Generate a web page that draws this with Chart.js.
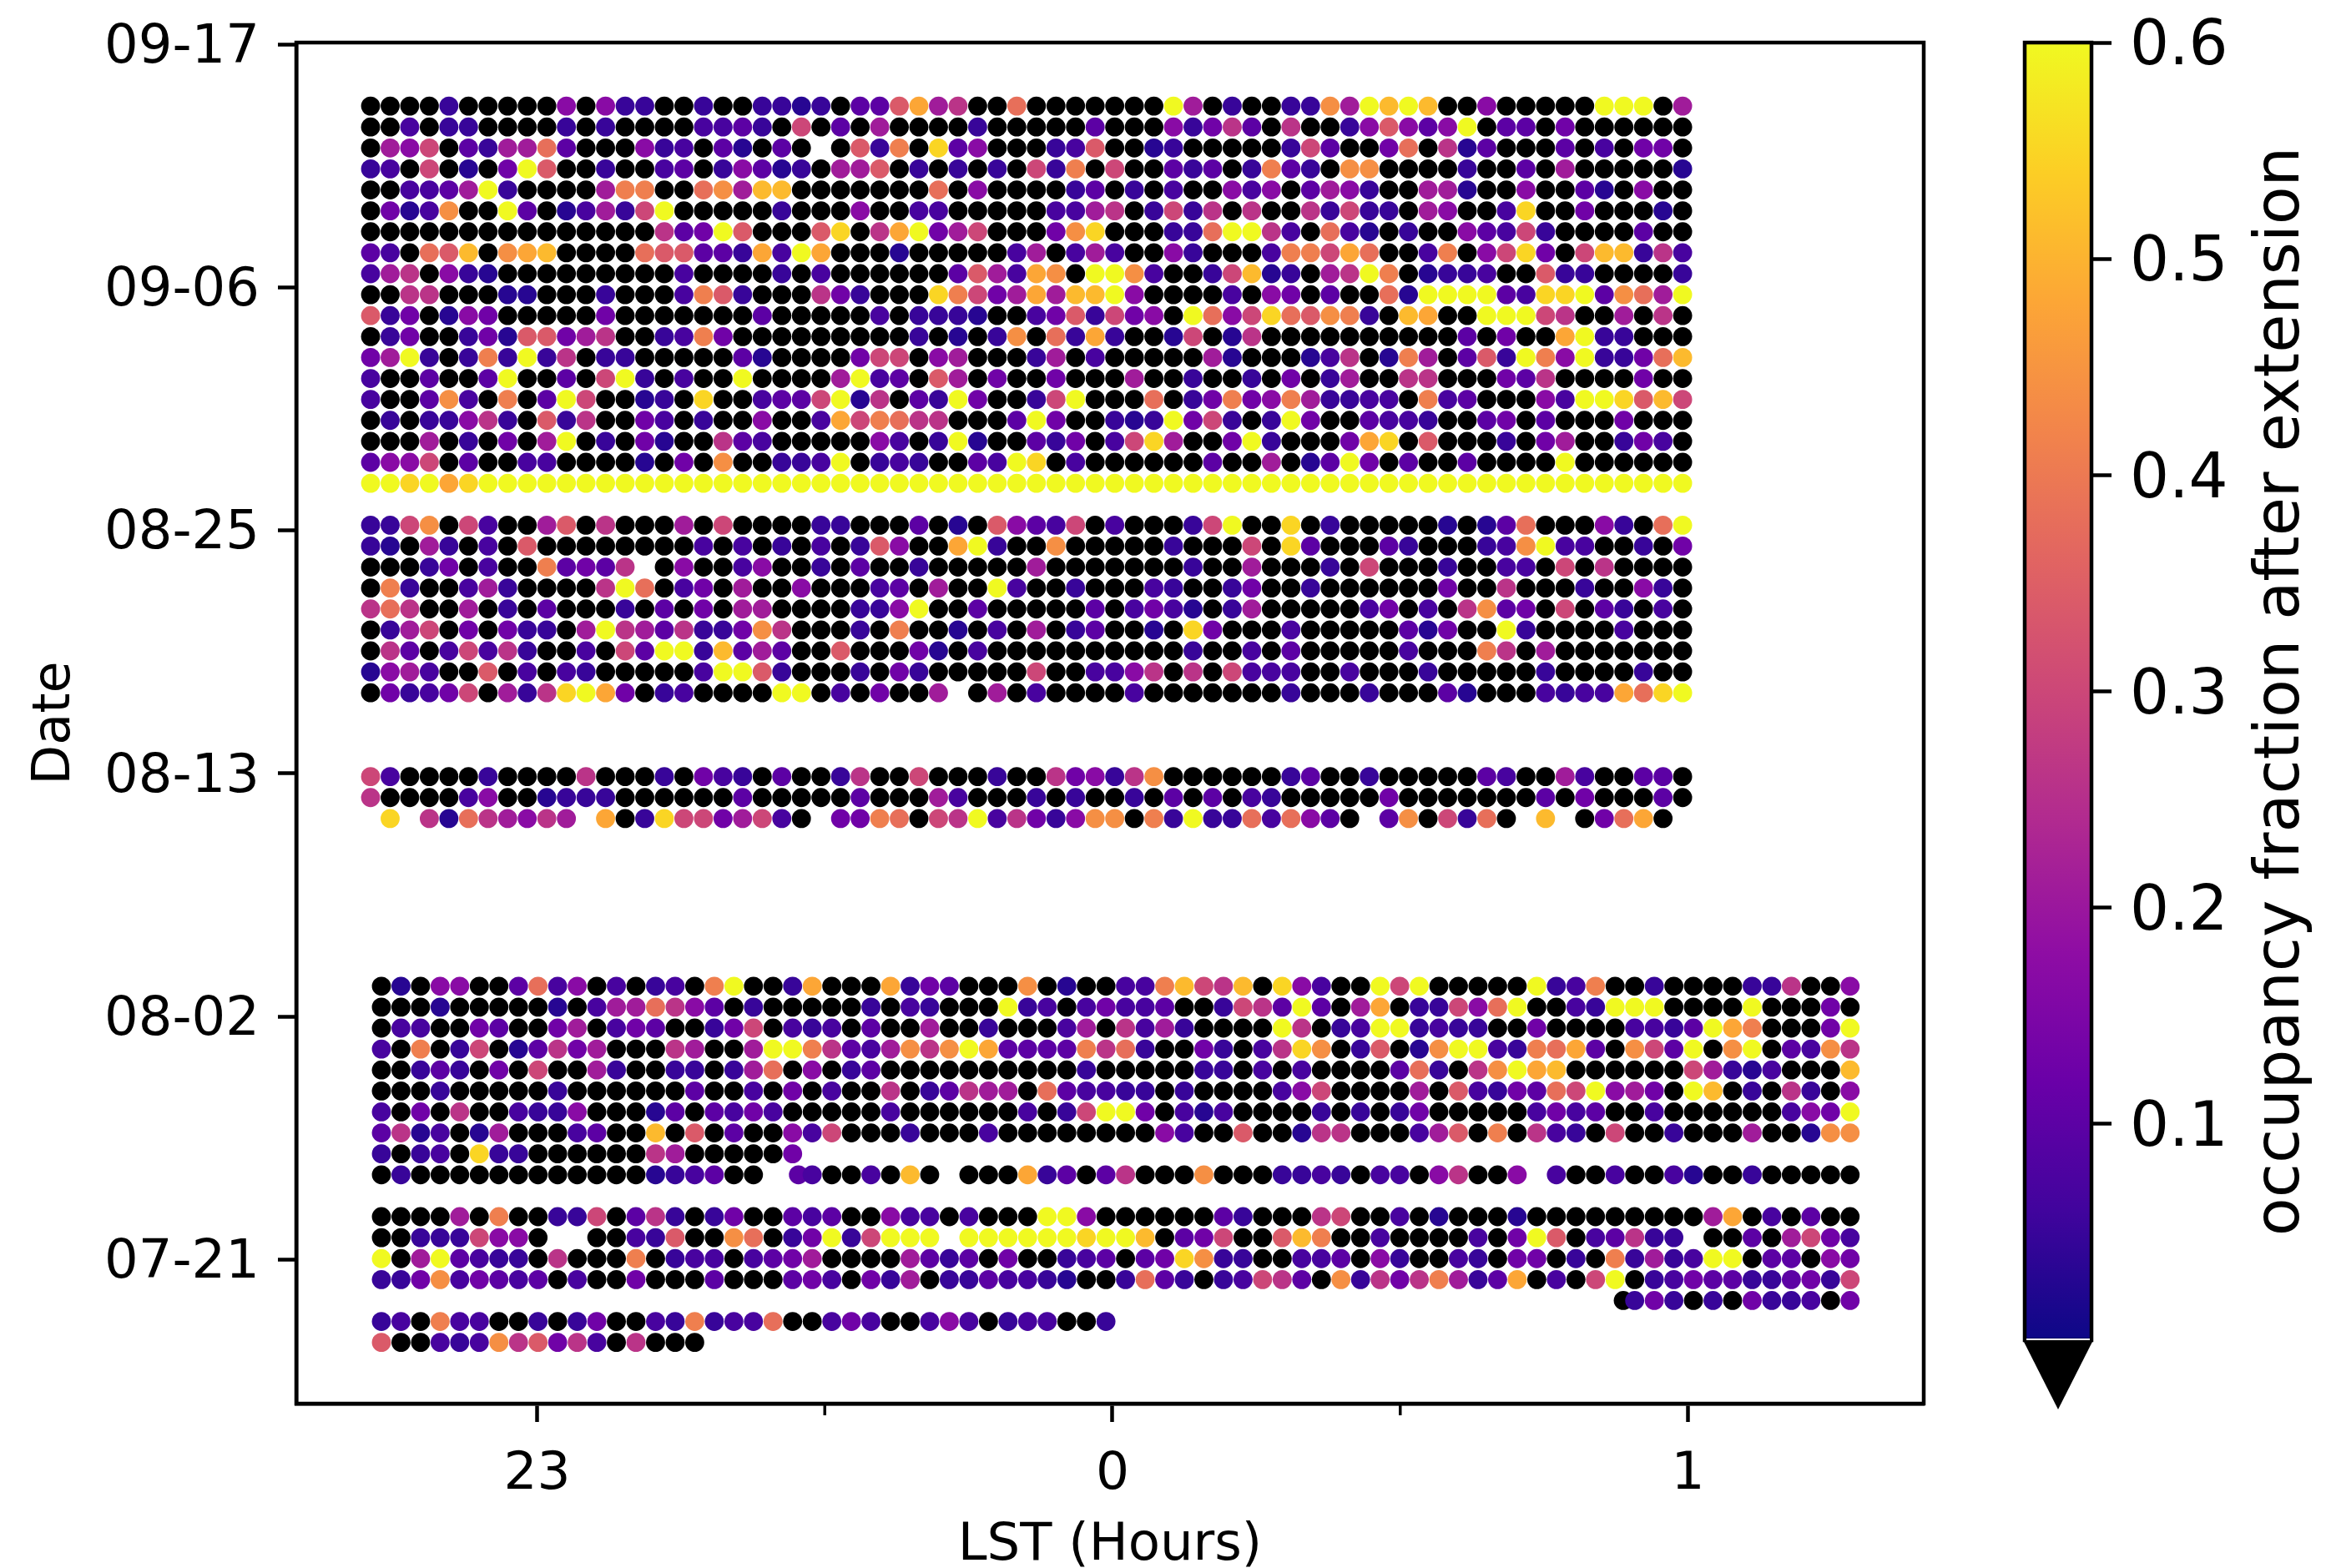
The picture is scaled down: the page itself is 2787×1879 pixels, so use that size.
<!DOCTYPE html>
<html>
<head>
<meta charset="utf-8">
<title>Occupancy fraction after extension</title>
<script src="https://cdn.jsdelivr.net/npm/chart.js@4/dist/chart.umd.js"></script>
<style>
  body { margin: 0; background: #fff; }
  canvas { position: absolute; top: 0; }
  #mainChart { left: 0; }
  #barChart { left: 2300px; }
</style>
</head>
<body>
<canvas id="mainChart" width="2787" height="1879"></canvas>
<canvas id="barChart" width="487" height="1879"></canvas>
<script>
// Axis ticks
const xTickValues = [-1, 0, 1];
const xTickLabels = ['23', '0', '1'];
const xMinorTicks = [-0.5, 0.5];
const yTickValues = [78.7, 67.1, 55.5, 43.9, 32.3, 20.7];
const yTickLabels = ['09-17', '09-06', '08-25', '08-13', '08-02', '07-21'];
const barTicks = [0.1, 0.2, 0.3, 0.4, 0.5, 0.6];

// Occupancy, one letter per pointing.
// 0 = below the colour range (black), . = no pointing
const occupancyLevels = {
  '0': 0, a: 0.03, b: 0.05, c: 0.07, d: 0.1, e: 0.13, f: 0.17, g: 0.21, h: 0.26,
  i: 0.3, j: 0.34, k: 0.38, l: 0.41, m: 0.44, n: 0.48, o: 0.51, p: 0.55, q: 0.6
};

const lstStep = 0.03403;

const topStart = -1.2893;
const topDates = ['09-14', '09-13', '09-12', '09-11', '09-10', '09-09', '09-08', '09-07', '09-06', '09-05',
  '09-04', '09-03', '09-02', '09-01', '08-31', '08-30', '08-29', '08-28', '08-27',
  '08-25', '08-24', '08-23', '08-22', '08-21', '08-20', '08-19', '08-18', '08-17',
  '08-13', '08-12', '08-11'];
const topRows = [
  '0000b00000f0fbb00b00bbab0ddjngh00k0000000qg0b00bbmgqoqo00f00000qqq0g',
  '00c0bb0000b0b0000ccdb0i0d0g0000b00000d000fbehd0h00bfjfdfq0dd0e000000',
  '0gfi0dbggkd000fbc0da0d0.0jbl0pdf000bcj00ab00000bid00ek0had000d0c0ee0',
  'bc0i0a0eqj00b00cd0bfdab0ggj0b0b0b0ibl0i00dbd0bldb0mm0000b00d0g00000a',
  '00ccdgqb0000gll00kmgoo0000000k0f0000bd0b0c00fcf0dgfb00gga00f00da0f00',
  '0eacm00qd0acgbiq00000b000f00cc00000ccgh0bibh0h00hbibb0gf00cp00e000a0',
  '000000000000000hdeqj000jp0hnqegi000emp000bbkqqhc0kca0b00fdcib0000d00',
  'dc0kjo0mno0000kjjddbncqn000a00000cg0cgc00fb000cllink00cl0fipe0ioobhc',
  'cgh0fba000000000c0000b0c000000djgcnm0qqmc00bioab0ghql0abbc00jbb0000b',
  '00hh000aa000b000cljb000heb000pliegngooqf0000c0fe0d00kaqqqqdcppqdmkgq',
  'jbe0afe00000e0000000d00000c0bbba00cejbief0qkfipkjmlb0on00qqqih00g0h0',
  '0be00beajjegh00bcle000000000b0a0bm0kbnb00ai0ah0000000000d0e00nqbb000',
  'egqb0blbqbh0bb00000da0000eii0fg000bg0c00000ga000ach0alg0djbqlfqbbeko',
  'c00d00dq00d0iqb0c00q0000gqcd0jg0e00e000g00b00b0e0bg00hh000edh0000e00',
  'c00dmc0l0dqi00ab0p00cddiqah0dbqe00biq000k0beleflgbbcc0lcd000fcqqpjoi',
  '0b0bbfhb0jbh00ec0b00f00cnilkhh000dqe00babqeib0bqe00dccb00de0d000e000',
  '000g0b0e0gq0b0ea00hdc00000fc0bqa00dbe0cipg00eqb000enp0j000b0eg00bec0',
  'dffi0d00cc0000a0e0m00bbcq0bcb00dcqp0c000000d00g0adqe0d00d0000q000000',
  'qqpqnpqqqqqqqqqqqqqqqqqqqqqqqqqqqqqqqqqqqqqqqqqqqqqqqqqqqqqqqqqqqqqq',
  'bbim0ic00gj0h000g0i0000bb000d0a0jfdci0c000biq00p0b00000a0adk000fb0kq',
  'ba0gb0c0j00000000c0c0b0c0bjf00nqb00m00000b000i0pd000db000bcmqcc00b0e',
  '000be0c00ldedh.0f00cf00b0d00b00000g0000000b00g000b0i000b00cc0i0h0000',
  '0lb00cgb0000hqk0ce0g00f000cd0g00qc00b000cb00be00b000000e00h000b00fb0',
  'hkh00g0b0d000b0d0e0gg0000bbfq00d00000d0ceca0bg00000ce0c0hmde0i0db0c0',
  '0bgi0e0ebb0gqhgdhbbemh000b0l00a0c0g0bd00a0pe000c00000dae00qb0000c000',
  '0hd0cichb00c0idqqbodgd00j000ea0c0000000000b00c0d00000c000lh0g0000000',
  'afgc00j0c0cb00000cqqjb000b0eb00000i00ccfh0h0iccc00c000b00000b0000b00',
  '0ebcei0gbhpqne0bc0000qq0c0e00g.0g0c0000c0000000b000b000da000cbccnkpq',
  'ic0000b0000h000b0ecb0d00bh00i000b00hefbhm000000bd00b00000dc00gc00dd0',
  'h0000cf00abbb000000d00000d000gc000b0b00b0d0d0cb00000e0000000d0e000d0',
  '.p.hakhgfhg.n0bpiiegic0.eelk0ihqchebfmm0lbqbbkckfd0.dm0ibk0.o.0ekn0.'
];

const bottomStart = -1.2705;
const bottomDates = ['08-03', '08-02', '08-01', '07-31', '07-30', '07-29', '07-28', '07-27', '07-26', '07-25',
  '07-23', '07-22', '07-21', '07-20', '07-19', '07-18', '07-17'];
const bottomRows = [
  '0a0ff00dkcf0c0bc0lq00bn000nbed000m0a00ccloiho0pfc00qiq00000qbcl00b0000bbh00f',
  '000a00000a0cggkhfd0b00000b0cb000qbc0ceccd00bihdqd0gn0bbifkq00cbqqq0000q000e0',
  '0cc00ed00eg0ced00bei0cbc0d00g00b000cg0hcgb0000qh0bcqqbcbb00e0000ccbdqnl000eq',
  'c0l0bi0adheg000hg00gqqlhdcgmhmqnddddlhkb00eb0chpm0bj0amqqcblknd0midq0mq0dcmh',
  '00bdb0e0i00gb00bb0bgk0f0bd0000000000b00000bb0c0c0000dkb0hmqno000000igbac000o',
  '000b00000b000000d00c0e0c00h0bdhgg0kdccbb0b0000cfi0000g0jcbedkiqfge0qo0b0hb0f',
  'c0e0h00cbbf000ad0dcec00000c000000c0biqqe0cac0000b0b0be00000cecd00c000000cfeq',
  'dhac0ag000cd00o0j0d00fci000b000c00000000fc00j00ahh000cgj0l0hcb0i00b000g00amm',
  'b0bc0pbb000000hg00000e',
  '0b000000000000abcd00..c00c0o0.000nbd0dh000m000bbcb0cc0fh00f.c00c00ca00b00000',
  '0000g0l00bbi0dhb0be00dcd00fcc0c000qqf000000db000hi00c0a000a000000000gn0c0d00',
  '00bbbiff0..00cbj00mk0beqbiqqq.qqqqqqpqqo0dei00jol00c0000c0eqj0cdhbb.00d0giec',
  'q0gqdcbb0h000l0bcc0cdeg0000gdbd0e00bcd0depmbb00ccd0fb00cb0ee0b0lbgbcqq0dd0fe',
  'bbemcedcd0c00e000d000dec0ebg0bbdccba00bkdb0bcihd0mbhehlgbdn0c0iq0bceddbbdebi',
  '................................................................beb0b0ebbc0e',
  'bc0lcc00b0be00cblbcck00cec00cfc0bcc00b',
  'j00cbcmhjehc0h000'
];

// Two pointings sit off the regular grid: [LST, date, level]
const offGridPoints = [
  [-0.5458, '07-25', 'd'],
  [0.8876, '07-19', '0']
];

const vmin = 0;
const vmax = 0.6;

// plasma colormap
const plasmaStops = ['#0d0887', '#41049d', '#6a00a8', '#8f0da4', '#b12a90', '#cc4778',
  '#e16462', '#f2844b', '#fca636', '#fcce25', '#f0f921'];

function hexToRgb(hex) {
  return [1, 3, 5].map(function(i) { return parseInt(hex.substr(i, 2), 16); });
}

function plasmaColor(value) {
  if (value <= vmin) return '#000000';
  const t = Math.min(value / vmax, 1) * (plasmaStops.length - 1);
  const i = Math.min(Math.floor(t), plasmaStops.length - 2);
  const a = hexToRgb(plasmaStops[i]);
  const b = hexToRgb(plasmaStops[i + 1]);
  const rgb = a.map(function(c, k) { return Math.round(c + (b[k] - c) * (t - i)); });
  return 'rgb(' + rgb.join(',') + ')';
}

// days since 1 July, observations fall late in the day
function dayNumber(date) {
  const parts = date.split('-');
  const monthStart = { '07': 0, '08': 31, '09': 62 };
  return monthStart[parts[0]] + Number(parts[1]) - 1 + 0.75;
}

const points = [];
offGridPoints.forEach(function(p) {
  points.push({ x: p[0], y: dayNumber(p[1]), v: occupancyLevels[p[2]] });
});

function addRows(rows, dates, start) {
  rows.forEach(function(row, r) {
    row.split('').forEach(function(code, c) {
      if (code === '.') return;
      points.push({ x: start + c * lstStep, y: dayNumber(dates[r]), v: occupancyLevels[code] });
    });
  });
}
addRows(topRows, topDates, topStart);
addRows(bottomRows, bottomDates, bottomStart);

Chart.defaults.font.family = '"DejaVu Sans"';
Chart.defaults.color = '#000';

// Top and right spines plus the short unlabelled ticks
const framePlugin = {
  id: 'frame',
  afterDraw: function(chart) {
    const ctx = chart.ctx;
    const area = chart.chartArea;
    ctx.save();
    ctx.strokeStyle = '#000';
    ctx.lineWidth = 4.5;
    ctx.strokeRect(area.left, area.top, area.right - area.left, area.bottom - area.top);
    ctx.lineWidth = 3.5;
    xMinorTicks.forEach(function(v) {
      const px = chart.scales.x.getPixelForValue(v);
      ctx.beginPath();
      ctx.moveTo(px, area.bottom);
      ctx.lineTo(px, area.bottom + 14);
      ctx.stroke();
    });
    ctx.restore();
  }
};

new Chart(document.getElementById('mainChart'), {
  type: 'scatter',
  data: {
    datasets: [{
      data: points,
      pointBackgroundColor: points.map(function(p) { return plasmaColor(p.v); }),
      pointBorderWidth: 0,
      pointRadius: 11.4,
      pointHoverRadius: 11.4
    }]
  },
  options: {
    responsive: false,
    animation: false,
    layout: { padding: { top: 51, right: 482, bottom: 0, left: 0 } },
    plugins: { legend: { display: false }, tooltip: { enabled: false } },
    scales: {
      x: {
        type: 'linear',
        min: -1.4184,
        max: 1.4097,
        afterBuildTicks: function(scale) {
          scale.ticks = xTickValues.map(function(v) { return { value: v }; });
        },
        afterFit: function(scale) {
          scale.height = 197;
          scale.paddingLeft = 0;
          scale.paddingRight = 0;
        },
        grid: { drawOnChartArea: false, tickLength: 22, tickWidth: 4.5, tickColor: '#000' },
        border: { color: '#000', width: 4.5 },
        ticks: {
          font: { size: 63 },
          padding: 26,
          maxRotation: 0,
          autoSkip: false,
          callback: function(value) { return xTickLabels[xTickValues.indexOf(value)]; }
        },
        title: {
          display: true,
          text: 'LST (Hours)',
          font: { size: 62.5, lineHeight: 0.84 },
          padding: { top: 0, bottom: 0 }
        }
      },
      y: {
        type: 'linear',
        min: 13.83,
        max: 78.78,
        afterBuildTicks: function(scale) {
          scale.ticks = yTickValues.map(function(v) { return { value: v }; });
        },
        afterFit: function(scale) {
          scale.width = 355;
          scale.paddingTop = 0;
          scale.paddingBottom = 0;
        },
        grid: { drawOnChartArea: false, tickLength: 22, tickWidth: 4.5, tickColor: '#000' },
        border: { color: '#000', width: 4.5 },
        ticks: {
          font: { size: 64 },
          padding: 22,
          labelOffset: 5,
          autoSkip: false,
          callback: function(value) { return yTickLabels[yTickValues.indexOf(value)]; }
        },
        title: {
          display: true,
          text: 'Date',
          font: { size: 62, lineHeight: 1 },
          padding: { top: 36, bottom: 0 }
        }
      }
    }
  },
  plugins: [framePlugin]
});

// Colour bar outline, the "under" triangle and the label
const barFramePlugin = {
  id: 'barFrame',
  afterDraw: function(chart) {
    const ctx = chart.ctx;
    const area = chart.chartArea;
    const midX = (area.left + area.right) / 2;
    ctx.save();
    ctx.fillStyle = '#000';
    ctx.beginPath();
    ctx.moveTo(area.left - 2, area.bottom);
    ctx.lineTo(midX, area.bottom + 83);
    ctx.lineTo(area.right + 2, area.bottom);
    ctx.closePath();
    ctx.fill();
    ctx.strokeStyle = '#000';
    ctx.lineWidth = 4.5;
    ctx.strokeRect(area.left, area.top, area.right - area.left, area.bottom - area.top);
    ctx.fillStyle = '#fff';
    ctx.fillRect(area.left + 2, area.bottom - 2, area.right - area.left - 4, 2);
    ctx.fillStyle = '#000';
    ctx.font = '75px "DejaVu Sans"';
    ctx.textAlign = 'center';
    ctx.textBaseline = 'middle';
    ctx.translate(435, (area.top + area.bottom) / 2);
    ctx.rotate(-Math.PI / 2);
    ctx.fillText('occupancy fraction after extension', 0, 0);
    ctx.restore();
  }
};

new Chart(document.getElementById('barChart'), {
  type: 'bar',
  data: {
    labels: ['occupancy'],
    datasets: [{
      data: [[vmin, vmax]],
      barPercentage: 1,
      categoryPercentage: 1,
      backgroundColor: function(context) {
        const area = context.chart.chartArea;
        if (!area) return '#000';
        const gradient = context.chart.ctx.createLinearGradient(0, area.bottom, 0, area.top);
        plasmaStops.forEach(function(color, i) {
          gradient.addColorStop(i / (plasmaStops.length - 1), color);
        });
        return gradient;
      }
    }]
  },
  options: {
    responsive: false,
    animation: false,
    layout: { padding: { top: 51, right: 0, bottom: 273, left: 126 } },
    plugins: { legend: { display: false }, tooltip: { enabled: false } },
    scales: {
      x: { display: false },
      y: {
        position: 'right',
        min: vmin,
        max: vmax,
        afterBuildTicks: function(scale) {
          scale.ticks = barTicks.map(function(v) { return { value: v }; });
        },
        afterFit: function(scale) {
          scale.width = 281;
          scale.paddingTop = 0;
          scale.paddingBottom = 0;
        },
        grid: { drawOnChartArea: false, tickLength: 24, tickWidth: 4.5, tickColor: '#000' },
        border: { display: false },
        ticks: {
          font: { size: 74 },
          padding: 22,
          labelOffset: 7,
          autoSkip: false,
          callback: function(value) { return value.toFixed(1); }
        }
      }
    }
  },
  plugins: [barFramePlugin]
});
</script>
</body>
</html>
